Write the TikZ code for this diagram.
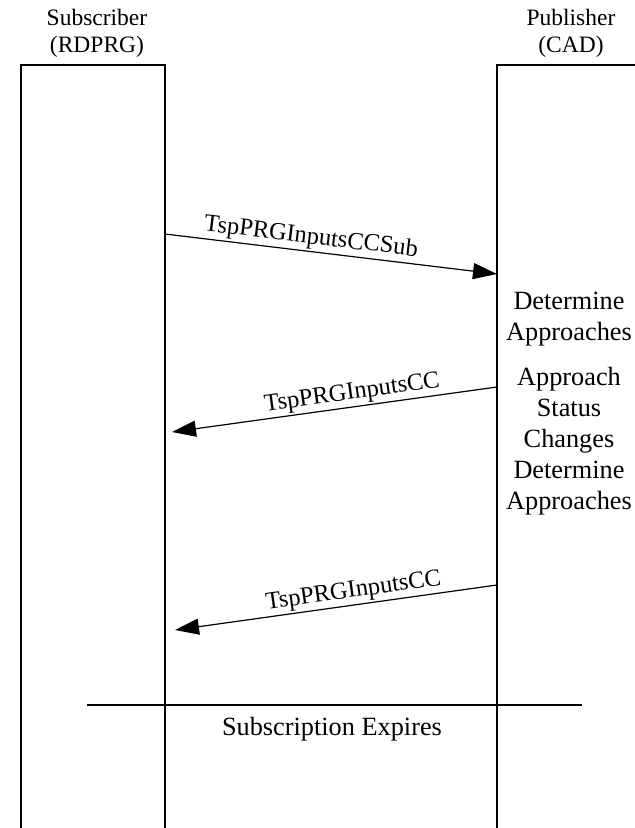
\documentclass[tikz,border=0pt]{standalone}
\usepackage{fontspec}
\setmainfont{Liberation Serif}
\usetikzlibrary{arrows.meta}
\begin{document}
\begin{tikzpicture}[x=1pt,y=-1pt,
  life/.style={line width=1.2pt},
  msg/.style={line width=1.2pt,-{Triangle[length=24pt,width=16pt]}},
  hdr/.style={align=center,font=\fontsize{23.5}{27}\selectfont,inner sep=0pt},
  lbl/.style={font=\fontsize{24.5}{28}\selectfont,inner sep=2pt},
  note/.style={align=center,font=\fontsize{26.3}{31}\selectfont,inner sep=0pt}]
\useasboundingbox (0,0) rectangle (635,828);
% lifelines
\draw[life] (21,828) -- (21,65) -- (165,65) -- (165,828);
\draw[life] (497,828) -- (497,65) -- (635,65);
% headers
\node[hdr] (sub) at (97,33) {Subscriber\\(RDPRG)};
\node[hdr] (pub) at (571,33) {Publisher\\(CAD)};
% message endpoints
\coordinate (m1s) at (165,234);
\coordinate (m1e) at (497,274);
\coordinate (m2s) at (497,387);
\coordinate (m2e) at (172,432);
\coordinate (m3s) at (497,585);
\coordinate (m3e) at (175,630);
\draw[msg] (m1s) -- node[lbl,sloped,above,pos=0.435] {TspPRGInputsCCSub} (m1e);
\draw[msg] (m2s) -- node[lbl,sloped,above,pos=0.44] {TspPRGInputsCC} (m2e);
\draw[msg] (m3s) -- node[lbl,sloped,above,pos=0.44] {TspPRGInputsCC} (m3e);
% notes
\node[note] (n1) at (569,319) {Determine\\Approaches};
\node[note] (n2) at (569,441) {Approach\\Status\\Changes\\Determine\\Approaches};
% expiry
\coordinate (xl) at (87,705);
\coordinate (xr) at (582,705);
\draw[life] (xl) -- (xr);
\node[note] (exp) at (332,729) {Subscription Expires};
\end{tikzpicture}
\end{document}
